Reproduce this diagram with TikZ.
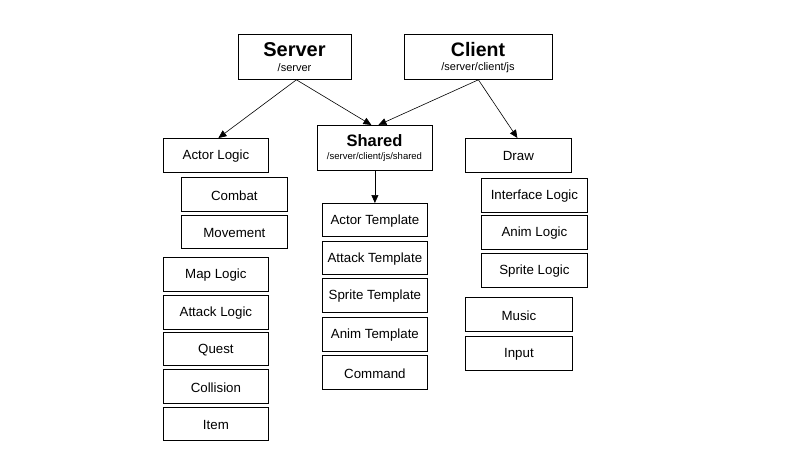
\documentclass[tikz,border=0pt]{standalone}
\usepackage{fontspec}
\setmainfont{Liberation Sans}
\usetikzlibrary{arrows.meta}
\begin{document}
\begin{tikzpicture}[x=1pt,y=-1pt,
  box/.style={draw,line width=0.8pt,inner sep=0pt},
  lbl/.style={font=\fontsize{13.3}{15}\selectfont,yshift=-1pt},
  arr/.style={line width=0.6pt,-{Triangle[length=8pt,width=7pt]}}]
\useasboundingbox (0,0) rectangle (794,472);
\newcommand{\bx}[6]{\node[box,minimum width={#4-#2},minimum height={#5-#3},anchor=north west] (#1) at (#2,#3) {};
  \node[lbl] at (#1.center) {#6};}
% top
\bx{server}{238}{34}{351}{79}{}
\node[font=\fontsize{20}{22}\selectfont\bfseries] at (294.5,50) {Server};
\node[font=\fontsize{11}{12}\selectfont] at (294.5,68) {/server};
\bx{client}{404}{34}{552}{79}{}
\node[font=\fontsize{19.5}{22}\selectfont\bfseries] at (478,50) {Client};
\node[font=\fontsize{11}{12}\selectfont] at (478,68) {/server/client/js};
\bx{shared}{317}{125}{432}{170}{}
\node[font=\fontsize{16.5}{18}\selectfont\bfseries] at (374.5,141) {Shared};
\node[font=\fontsize{9.5}{10}\selectfont] at (374.5,157) {/server/client/js/shared};
% left
\bx{actor}{163}{138}{268}{172}{Actor Logic}
\bx{combat}{181}{177}{287}{211}{Combat}
\bx{move}{181}{215}{287}{248}{Movement}
\bx{map}{163}{257}{268}{291}{Map Logic}
\bx{atk}{163}{295}{268}{329}{Attack Logic}
\bx{quest}{163}{332}{268}{365}{Quest}
\bx{coll}{163}{369}{268}{403}{Collision}
\bx{item}{163}{407}{268}{440}{Item}
% middle
\bx{at}{322}{203}{427}{236}{Actor Template}
\bx{kt}{322}{241}{427}{274}{Attack Template}
\bx{st}{322}{278}{427}{312}{Sprite Template}
\bx{nt}{322}{317}{427}{351}{Anim Template}
\bx{cmd}{322}{355}{427}{389}{Command}
% right
\bx{draw}{465}{138}{571}{172}{Draw}
\bx{il}{481}{178}{587}{212}{Interface Logic}
\bx{al}{481}{215}{587}{249}{Anim Logic}
\bx{sl}{481}{253}{587}{287}{Sprite Logic}
\bx{mus}{465}{297}{572}{331}{Music}
\bx{inp}{465}{336}{572}{370}{Input}
% arrows
\draw[arr] ([xshift=1.5pt]server.south) -- ([xshift=2.5pt]actor.north);
\draw[arr] ([xshift=1.5pt]server.south) -- ([xshift=-3.5pt]shared.north);
\draw[arr] (client.south) -- ([xshift=3.5pt]shared.north);
\draw[arr] (client.south) -- ([xshift=-1pt]draw.north);
\draw[arr] (shared.south) -- (at.north);
\end{tikzpicture}
\end{document}
